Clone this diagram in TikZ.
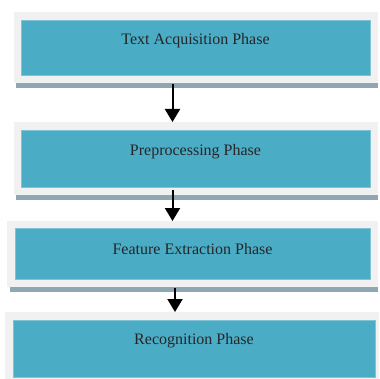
\documentclass[tikz,border=0pt]{standalone}
\usepackage{fontspec}
\setmainfont{Liberation Serif}
\usetikzlibrary{arrows.meta,positioning}

\definecolor{phaseblue}{HTML}{4BACC6}
\definecolor{framegray}{HTML}{F1F1F1}
\definecolor{shadowgray}{HTML}{8EA7B1}
\definecolor{phaseline}{HTML}{80C4D6}

\tikzset{
	frame/.style={fill=framegray,inner sep=0pt,outer sep=0pt,anchor=north west},
	phase/.style={fill=phaseblue,draw=phaseline,line width=0.6pt,inner sep=0pt,outer sep=0pt,anchor=north west},
	phasetext/.style={text=black!85,font=\fontsize{16}{19}\selectfont},
	flow/.style={line width=2pt,-{Triangle[width=15pt,length=13pt]}}
}

\begin{document}
\begin{tikzpicture}[x=1pt,y=-1pt]
				\useasboundingbox (0,0) rectangle (379,379);
				\fill[shadowgray] (16,17) rectangle (378,88);
				\fill[shadowgray] (16,127) rectangle (378,200);
				\fill[shadowgray] (10,226) rectangle (378,292);
				
				\draw (14,12) node[frame,minimum width=364pt,minimum height=71pt] (F1) {};
				\draw (14,122) node[frame,minimum width=364pt,minimum height=73pt] (F2) {};
				\draw (7,221) node[frame,minimum width=371pt,minimum height=66pt] (F3) {};
				\draw (5,312) node[frame,minimum width=374pt,minimum height=67pt] (F4) {};
				
				\draw (21,20) node[phase,minimum width=349pt,minimum height=55pt] (B1) {};
				\draw (21,130) node[phase,minimum width=349pt,minimum height=57pt] (B2) {};
				\draw (15,228) node[phase,minimum width=355pt,minimum height=51pt] (B3) {};
				\draw (13,320) node[phase,minimum width=362pt,minimum height=57pt] (B4) {};
				
				\node[phasetext] (T1) at ([yshift=-21pt]B1.north) {Text Acquisition Phase};
				\node[phasetext] (T2) at ([yshift=-22pt]B2.north) {Preprocessing Phase};
				\node[phasetext] (T3) at ([yshift=-21pt]B3.north) {Feature Extraction Phase};
				\node[phasetext] (T4) at ([yshift=-21pt]B4.north) {Recognition Phase};
				
				\coordinate (A1) at (172.5,84);
				\coordinate (A2) at (172.5,190);
				\coordinate (A3) at (175,288);
				\draw[flow] (A1) -- (A1 |- F2.north);
				\draw[flow] (A2) -- (A2 |- F3.north);
				\draw[flow] (A3) -- (A3 |- F4.north);
			\end{tikzpicture}
\end{document}
